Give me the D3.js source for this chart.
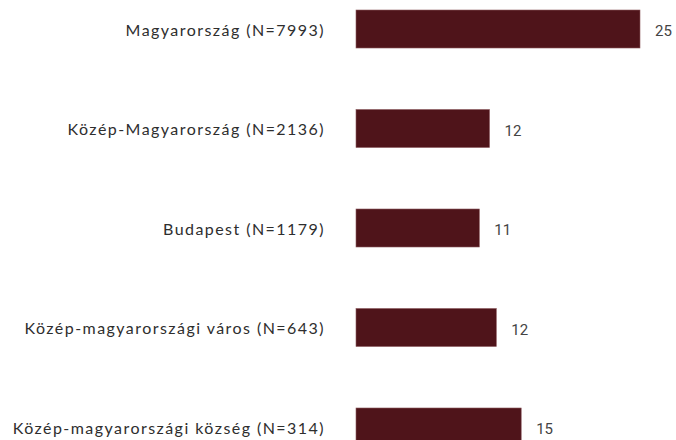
<!DOCTYPE html>
<html>
<head>
<meta charset="utf-8">
<script src="https://cdn.jsdelivr.net/npm/d3@7"></script>
<style>
  body { margin: 0; background: #fff; }
  svg { display: block; }
</style>
</head>
<body>
<div id="chart"></div>
<script>
// data (share, %)
var categories = [
   "Magyarország (N=7993)",
   "Közép-Magyarország (N=2136)",
   "Budapest (N=1179)",
   "Közép-magyarországi város (N=643)",
   "Közép-magyarországi község (N=314)"
]
var values = [25.1, 11.8, 10.9, 12.4, 14.6]

var svgWidth  = 676
var svgHeight = 440

var svg = d3.select("#chart")
.append("svg")
.attr("width", svgWidth)
.attr("height", svgHeight)

// x scale: bar origin at 356, ~11.3px per unit
var x = d3.scaleLinear()
.domain([0, 25.1])
.range([356, 640])

var y = d3.scaleBand()
.domain(categories)
.range([10, 446])
.paddingInner(0.618)
.paddingOuter(0)

var rows = categories.map(function(c, i){
   return {name: c, value: values[i]}
})

// bars
svg.selectAll("rect.bar")
.data(rows)
.enter()
.append("rect")
.attr("class", "bar")
.attr("x", x(0))
.attr("y", function(d){ return y(d.name) })
.attr("width", function(d){ return x(d.value) - x(0) })
.attr("height", y.bandwidth())
.attr("fill", "#4f141a")
.attr("stroke", "#8c5a5f")
.attr("stroke-width", 0.6)

// category labels (right aligned left of the bars)
svg.selectAll("text.cat")
.data(rows)
.enter()
.append("text")
.attr("class", "cat")
.attr("x", 325)
.attr("y", function(d){ return y(d.name) + y.bandwidth() / 2 + 1 })
.attr("dy", "0.35em")
.attr("text-anchor", "end")
.attr("font-family", "Lato, 'Open Sans', sans-serif")
.attr("font-size", 16)
.attr("letter-spacing", 1.45)
.attr("fill", "#2e2e2e")
.text(function(d){ return d.name })

// value labels
svg.selectAll("text.val")
.data(rows)
.enter()
.append("text")
.attr("class", "val")
.attr("x", function(d){ return x(d.value) + 15 })
.attr("y", function(d){ return y(d.name) + y.bandwidth() / 2 + 2 })
.attr("dy", "0.35em")
.attr("font-family", "Roboto, sans-serif")
.attr("font-size", 15)
.attr("fill", "#444")
.text(function(d){ return d3.format(".0f")(d.value) })
</script>
</body>
</html>
